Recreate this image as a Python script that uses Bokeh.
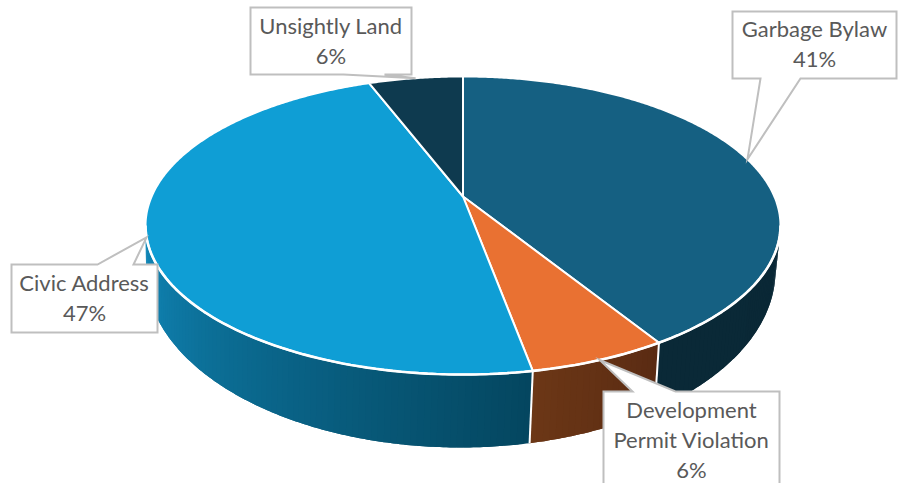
import math
from bokeh.plotting import figure
from bokeh.models import ColumnDataSource, Range1d
from bokeh.core.properties import value
from bokeh.embed import file_html
from bokeh.resources import INLINE

# ---- data (clockwise from 12 o'clock)
categories = ["Garbage Bylaw", "Development Permit Violation", "Civic Address", "Unsightly Land"]
shares = [41.2, 5.9, 47.1, 5.8]
top_colors = ["#156082", "#E97132", "#0F9ED5", "#0E3A4F"]
label_lines = [["Garbage Bylaw"], ["Development", "Permit Violation"], ["Civic Address"], ["Unsightly Land"]]

# wall shading: colour at the left and right end of each visible wall
wall_left = ["#0A2937", "#6C3716", "#1189BB", None]
wall_right = ["#0A2836", "#5A2B13", "#04465F", None]

# ---- layout of the tilted disc (pixels)
CX, CY, R, S, K = 462.5, 196.0, 311.4, 143.4, 0.1946
BX, BY, BRX, BRY = 460.0, 270.0, 315.0, 177.0
INK, EDGE = "#595959", "#BFBFBF"
FONT, FS = "Lato", 22
LINE_H = 30
# callout: box left, top, right, bottom, pointer base x0, x1, which side, first text line y
boxes = [
    (732, 11, 896, 78, 760, 800, "bottom", 28),
    (603, 391, 779, 500, 632, 675, "top", 409),
    (11, 264, 157, 332, 97, 133, "top", 282),
    (250, 7, 411, 74, 343, 384, "bottom", 25),
]


def rim(t_deg):
    t = math.radians(t_deg)
    u, v = math.sin(t), math.cos(t)
    w = 1 + K * v
    return CX + R * u / w, CY - S * v / w


def floor_pt(t_deg):
    x, _ = rim(t_deg)
    xb = BX + (x - CX) * 0.99
    d = min(1.0, abs(xb - BX) / BRX)
    return xb, BY + BRY * math.sqrt(1 - d * d)


def mix(c0, c1, f):
    a = [int(c0[i:i + 2], 16) for i in (1, 3, 5)]
    b = [int(c1[i:i + 2], 16) for i in (1, 3, 5)]
    return "#%02x%02x%02x" % tuple(round(p + (q - p) * f) for p, q in zip(a, b))


total = sum(shares)
edges = [0.0]
for s in shares:
    edges.append(edges[-1] + 360.0 * s / total)

p = figure(width=901, height=483, x_range=Range1d(0, 901), y_range=Range1d(483, 0),
           output_backend="svg", toolbar_location=None, min_border=0,
           outline_line_color=None, background_fill_color="white")
p.axis.visible = False
p.grid.visible = False

# ---- walls: overlapping narrow strips, painted in order, make the shading
vis0 = math.degrees(math.acos(-K))
vis1 = 360 - vis0
sx, sy, sc = [], [], []
wall_seps = []
for i in range(len(shares)):
    a0, a1 = max(edges[i], vis0), min(edges[i + 1], vis1)
    if a1 <= a0:
        continue
    n = max(2, int((a1 - a0) / 1.0))
    step = (a1 - a0) / n
    for j in range(n):
        t0 = a0 + step * j
        t1 = min(a1, t0 + 2 * step)
        f = (j + 0.5) / n
        col = mix(wall_right[i], wall_left[i], f)
        tt = [t0 + (t1 - t0) * q / 4 for q in range(5)]
        top = [rim(q) for q in tt]
        bot = [floor_pt(q) for q in reversed(tt)]
        sx.append([q[0] for q in top + bot])
        sy.append([q[1] for q in top + bot])
        sc.append(col)
    if a0 > vis0 + 0.01:
        wall_seps.append(a0)
p.patches(xs="sx", ys="sy", fill_color="sc", line_color=None,
          source=ColumnDataSource(dict(sx=sx, sy=sy, sc=sc)))

for a in wall_seps:
    (x0, y0), (x1, y1) = rim(a), floor_pt(a)
    p.line([x0, x1], [y0, y1], line_color="white", line_width=2)

# ---- top face
for i in range(len(shares)):
    n = max(4, int(edges[i + 1] - edges[i]))
    ang = [edges[i] + (edges[i + 1] - edges[i]) * j / (2 * n) for j in range(2 * n + 1)]
    pts = [rim(a) for a in ang]
    p.patch([CX] + [q[0] for q in pts], [CY] + [q[1] for q in pts],
            fill_color=top_colors[i], line_color="white", line_width=2, line_join="round")

# a slightly heavier white rim along the front edge
front = [vis0 + (vis1 - vis0) * j / 120 for j in range(121)]
p.line([rim(a)[0] for a in front], [rim(a)[1] for a in front], line_color="white", line_width=2.6)

# ---- callouts, pointer tip sits on the rim at the middle of each slice
for i, cat in enumerate(categories):
    L, T, Rt, B, b0, b1, side, ty = boxes[i]
    tx, tyy = rim((edges[i] + edges[i + 1]) / 2)
    if side == "bottom":
        xs = [L, Rt, Rt, b1, tx, b0, L]
        ys = [T, T, B, B, tyy, B, B]
    else:
        xs = [L, b0, tx, b1, Rt, Rt, L]
        ys = [T, T, tyy, T, T, B, B]
    p.patch(xs, ys, fill_color="white", line_color=EDGE, line_width=2, line_join="miter")
    lines = label_lines[i] + ["%d%%" % round(shares[i])]
    mid = (L + Rt) / 2
    p.text([mid] * len(lines), [ty + LINE_H * k for k in range(len(lines))], text=lines,
           text_font=value(FONT), text_font_size="%dpx" % FS, text_color=INK,
           text_align="center", text_baseline="middle")

open("out.html", "w").write(file_html(p, INLINE))
